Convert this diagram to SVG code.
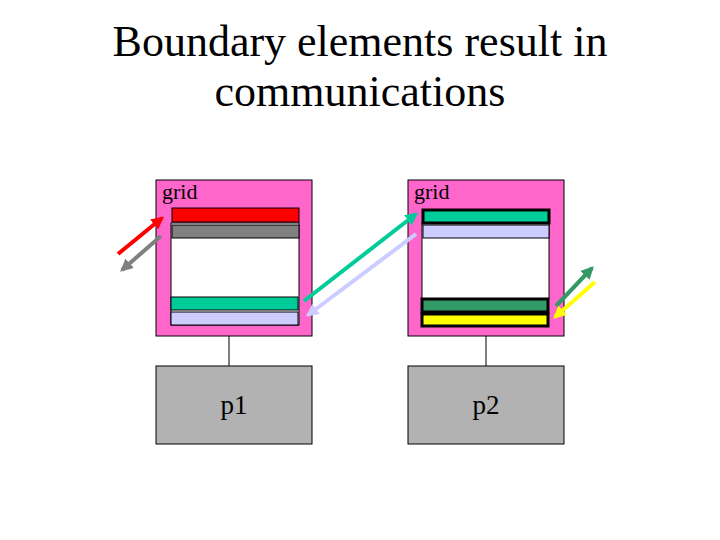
<svg xmlns="http://www.w3.org/2000/svg" width="720" height="540" viewBox="0 0 720 540">
<style>
.title{font-family:"Liberation Serif",serif;font-size:44px;fill:#000;text-anchor:middle}
.lbl{font-family:"Liberation Serif",serif;font-size:22px;fill:#000}
.plbl{font-family:"Liberation Serif",serif;font-size:27px;fill:#000;text-anchor:middle}
.grid{fill:#FF66CC;stroke:#000;stroke-width:1}
.proc{fill:#B2B2B2;stroke:#000;stroke-width:1}
.bar{stroke:#000;stroke-width:1}
.thick{stroke:#000;stroke-width:3}
.arr{stroke-width:4;fill:none}
</style>
<defs>
<marker id="mRed" viewBox="0 0 10 10" refX="8" refY="5" markerWidth="3.2" markerHeight="3.2" orient="auto" markerUnits="strokeWidth"><path d="M0,0L10,5L0,10z" fill="#FF0000"/></marker>
<marker id="mGray" viewBox="0 0 10 10" refX="8" refY="5" markerWidth="3.2" markerHeight="3.2" orient="auto" markerUnits="strokeWidth"><path d="M0,0L10,5L0,10z" fill="#808080"/></marker>
<marker id="mTeal" viewBox="0 0 10 10" refX="8" refY="5" markerWidth="3.2" markerHeight="3.2" orient="auto" markerUnits="strokeWidth"><path d="M0,0L10,5L0,10z" fill="#00CC99"/></marker>
<marker id="mLav" viewBox="0 0 10 10" refX="8" refY="5" markerWidth="3.2" markerHeight="3.2" orient="auto" markerUnits="strokeWidth"><path d="M0,0L10,5L0,10z" fill="#CCCCFF"/></marker>
<marker id="mDg" viewBox="0 0 10 10" refX="8" refY="5" markerWidth="3.2" markerHeight="3.2" orient="auto" markerUnits="strokeWidth"><path d="M0,0L10,5L0,10z" fill="#339966"/></marker>
<marker id="mYel" viewBox="0 0 10 10" refX="8" refY="5" markerWidth="3.2" markerHeight="3.2" orient="auto" markerUnits="strokeWidth"><path d="M0,0L10,5L0,10z" fill="#FFFF00"/></marker>
</defs>
<rect width="720" height="540" fill="#fff"/>
<text class="title" x="360" y="56">Boundary elements result in</text>
<text class="title" x="360" y="106">communications</text>

<g id="grid1">
<rect class="grid" x="156" y="180" width="156" height="156"/>
<text class="lbl" x="162" y="199">grid</text>
<rect class="bar" x="171" y="223" width="128" height="102" fill="#fff"/>
<rect class="bar" x="172" y="208" width="127" height="14" fill="#FF0000"/>
<rect class="bar" x="172" y="225" width="127" height="13" fill="#808080"/>
<rect class="bar" x="171" y="297" width="127" height="13" fill="#00CC99"/>
<rect class="bar" x="171" y="312" width="127" height="13" fill="#CCCCFF"/>
</g>

<g id="grid2">
<rect class="grid" x="408" y="180" width="156" height="156"/>
<text class="lbl" x="414" y="199">grid</text>
<rect class="bar" x="422" y="223" width="127" height="76" fill="#fff"/>
<rect class="thick" x="423" y="210" width="126" height="13" fill="#00CC99"/>
<rect class="bar" x="423" y="225" width="126" height="13" fill="#CCCCFF"/>
<rect class="thick" x="422" y="299" width="126" height="13" fill="#339966"/>
<rect class="thick" x="422" y="314" width="126" height="12" fill="#FFFF00"/>
</g>

<g id="p1">
<rect class="proc" x="156" y="366" width="156" height="78"/>
<text class="plbl" x="234" y="414">p1</text>
</g>
<g id="p2">
<rect class="proc" x="408" y="366" width="156" height="78"/>
<text class="plbl" x="486" y="414">p2</text>
</g>

<g id="connectors">
<line x1="229" y1="336" x2="229" y2="366" stroke="#000" stroke-width="1"/>
<line x1="486" y1="336" x2="486" y2="366" stroke="#000" stroke-width="1"/>
<line class="arr" x1="118" y1="254" x2="162" y2="218" stroke="#FF0000" marker-end="url(#mRed)"/>
<line class="arr" x1="161" y1="236" x2="122" y2="270" stroke="#808080" marker-end="url(#mGray)"/>
<line class="arr" x1="304" y1="301" x2="416" y2="214" stroke="#00CC99" marker-end="url(#mTeal)"/>
<line class="arr" x1="416" y1="234" x2="308" y2="315" stroke="#CCCCFF" marker-end="url(#mLav)"/>
<line class="arr" x1="556" y1="306" x2="592" y2="268" stroke="#339966" marker-end="url(#mDg)"/>
<line class="arr" x1="595" y1="282" x2="555" y2="317" stroke="#FFFF00" marker-end="url(#mYel)"/>
</g>
</svg>
